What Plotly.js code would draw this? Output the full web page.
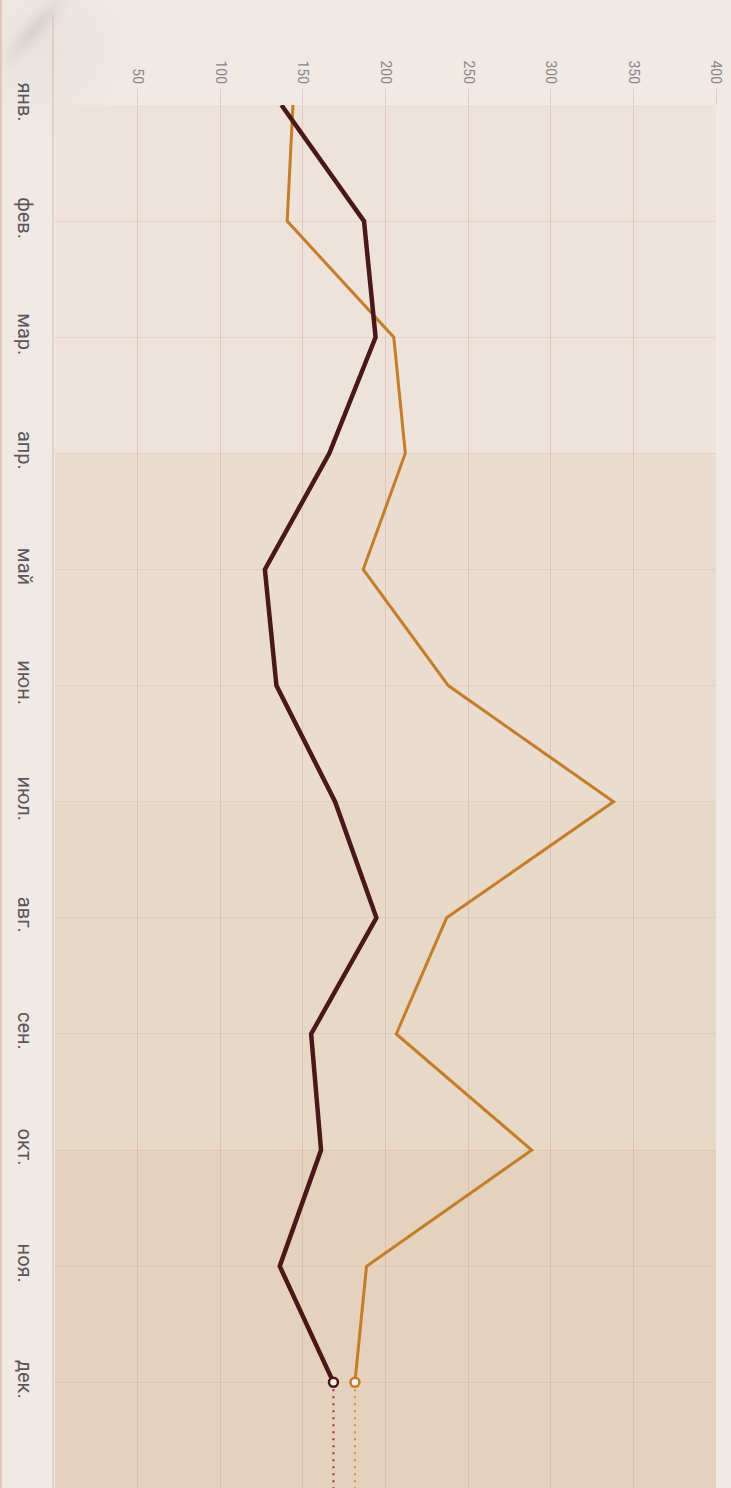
<!DOCTYPE html>
<html>
<head>
<meta charset="utf-8">
<script src="https://cdn.plot.ly/plotly-3.0.1.min.js"></script>
<style>
  html, body { margin: 0; padding: 0; }
  body {
    width: 731px; height: 1488px; overflow: hidden;
    background-color: #f0e9e4;
    position: relative;
  }
  #smudge {
    position: absolute; left: -20px; top: 18px; width: 110px; height: 22px;
    transform: rotate(-48deg);
    background: radial-gradient(ellipse at center, rgba(140,135,130,0.28), rgba(140,135,130,0) 70%);
    filter: blur(4px);
  }
  #smudge2 {
    position: absolute; left: -40px; top: -40px; width: 180px; height: 180px;
    background: radial-gradient(circle at center, rgba(170,160,155,0.10), rgba(170,160,155,0) 70%);
  }
  #edge { position: absolute; left: 0; top: 0; width: 2px; height: 1488px; background: #e2c8c0; }
  #chart { position: absolute; left: 0; top: 0; width: 731px; height: 1488px; }
</style>
</head>
<body>
<div id="smudge2"></div>
<div id="smudge"></div>
<div id="edge"></div>
<div id="chart"></div>
<script>
// ---- data ----
const months = ["янв.", "фев.", "мар.", "апр.", "май", "июн.", "июл.", "авг.", "сен.", "окт.", "ноя.", "дек."];
const seriesDark = [137, 187, 194, 166, 127, 134, 169.5, 194.5, 155, 161, 136, 168.5];
const seriesOrange = [144, 140.5, 205, 212, 186.5, 238, 338, 237, 206.5, 288.5, 188.5, 181.5];
const valueTicks = [50, 100, 150, 200, 250, 300, 350, 400];
const quarterStarts = [0, 3, 6, 9];

// ---- styling ----
const darkColor = "#4a1818";
const orangeColor = "#c47d2a";
const darkDot = "#a8282c";
const orangeDot = "#c98f3c";
const bandColors = ["#ede3da", "#eaddcf", "#e8d9c7", "#e4d2bd"];
const yEnd = 11.91;

const idx = months.map((m, i) => i);
const last = months.length - 1;

const traces = [
  { x: seriesOrange, y: idx, mode: "lines", line: { color: orangeColor, width: 3 }, hoverinfo: "skip" },
  { x: seriesDark, y: idx, mode: "lines", line: { color: darkColor, width: 4.5 }, hoverinfo: "skip" },
  { x: [seriesOrange[last], seriesOrange[last]], y: [last, yEnd], mode: "lines",
    line: { color: orangeDot, width: 2, dash: "2px,5px" }, hoverinfo: "skip" },
  { x: [seriesDark[last], seriesDark[last]], y: [last, yEnd], mode: "lines",
    line: { color: darkDot, width: 2, dash: "2px,5px" }, hoverinfo: "skip" },
  { x: [seriesOrange[last]], y: [last], mode: "markers",
    marker: { symbol: "circle", size: 9, color: "#f6efe6", line: { color: orangeColor, width: 2.5 } }, hoverinfo: "skip" },
  { x: [seriesDark[last]], y: [last], mode: "markers",
    marker: { symbol: "circle", size: 9, color: "#f6efe6", line: { color: darkColor, width: 2.5 } }, hoverinfo: "skip" }
];

const shapes = quarterStarts.map((q, i) => ({
  type: "rect", xref: "paper", yref: "y", x0: 0, x1: 1, y0: q, y1: q + 3,
  fillcolor: bandColors[i], line: { width: 0 }, layer: "below"
}));
shapes.push({
  type: "line", xref: "paper", yref: "paper", x0: -0.003, x1: -0.003, y0: 0, y1: 1.065,
  line: { color: "#dcc0b8", width: 1.2 }, layer: "above"
});

const layout = {
  width: 731, height: 1488,
  margin: { l: 55, r: 15, t: 105, b: 0 },
  paper_bgcolor: "rgba(0,0,0,0)",
  plot_bgcolor: "rgba(0,0,0,0)",
  showlegend: false,
  shapes: shapes,
  xaxis: {
    range: [0, 400], side: "top",
    tickvals: valueTicks, ticktext: valueTicks.map(String),
    tickangle: 90,
    tickfont: { family: "Roboto, 'Liberation Sans', sans-serif", size: 14, color: "#8a8686" },
    ticks: "outside", ticklen: 15, tickwidth: 1, tickcolor: "rgba(205,160,150,0.4)",
    showgrid: true, gridcolor: "rgba(205,160,150,0.4)", gridwidth: 1,
    zeroline: false, showline: false, fixedrange: true
  },
  yaxis: {
    range: [yEnd, 0],
    tickvals: idx, ticktext: months,
    tickangle: 90,
    tickfont: { family: "Roboto, 'Liberation Sans', sans-serif", size: 20, color: "#5a565b" },
    ticks: "", ticklabelstandoff: 16,
    showgrid: true, gridcolor: "rgba(215,170,160,0.28)", gridwidth: 1,
    zeroline: false, showline: false, fixedrange: true
  }
};

Plotly.newPlot("chart", traces, layout, { staticPlot: true, displayModeBar: false });
</script>
</body>
</html>
